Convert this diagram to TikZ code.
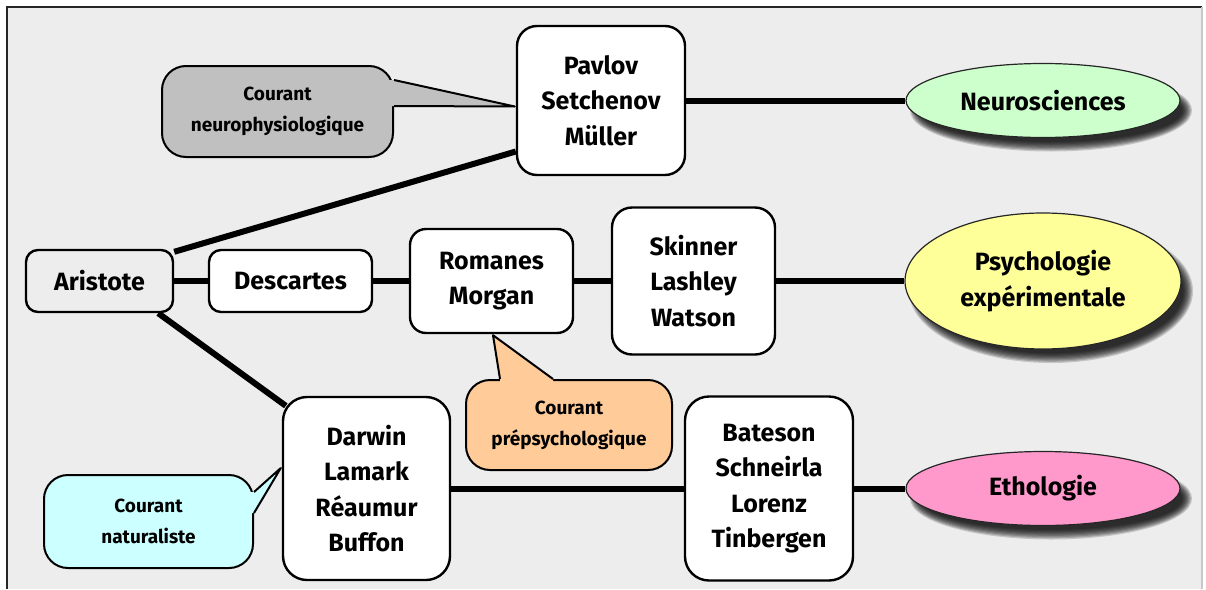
\documentclass[tikz,border=0pt]{standalone}
\usepackage{fontspec}
\setmainfont{Fira Sans}
\usetikzlibrary{shapes.geometric}
\pgfdeclarelayer{shadowlayer}
\pgfdeclarelayer{lines}
\pgfdeclarelayer{front}
\pgfsetlayers{main,shadowlayer,lines,front}
\definecolor{bgc}{HTML}{EDEDED}
\definecolor{neuc}{HTML}{CCFFCC}
\definecolor{psyc}{HTML}{FFFF99}
\definecolor{ethc}{HTML}{FF99CC}
\definecolor{cnc}{HTML}{C0C0C0}
\definecolor{cpc}{HTML}{FFCC99}
\definecolor{cnatc}{HTML}{CCFFFF}
\newcommand\mybigfont{\fontsize{25}{35.5}\selectfont\bfseries}
\newcommand\mysmallfont{\fontsize{19}{31}\selectfont\bfseries}
\newcommand\myellshadow[3]{%
  \foreach \k in {0,...,8}{%
    \fill[black, opacity=0.17] ([shift={(8,10)}]#1.center) ellipse [x radius={#2+4-1.2*\k}, y radius={#3+4-1.2*\k}];
  }%
}
\tikzset{
  box/.style={draw=black, line width=2.4pt, rounded corners=16pt, fill=white,
    inner sep=0pt, align=center, font=\mybigfont},
  ell/.style={ellipse, draw=black!85, line width=1.2pt, inner sep=0pt,
    align=center, font=\mybigfont},
  callout/.style={draw=black, line width=2pt, rounded corners=24pt,
    inner sep=0pt, align=center, font=\mysmallfont},
  link/.style={line width=6pt, black},
  tail/.style={draw=black, line width=2pt, line join=round},
}
\begin{document}
\begin{tikzpicture}[x=1pt,y=-1pt]
\useasboundingbox (0,0) rectangle (1206,589);
% frame (main layer, lowest)
\fill[white] (0,0) rectangle (1206,589);
\fill[bgc] (7,7) rectangle (1202,589);
\draw[black!85, line width=2pt] (7,589) -- (7,7) -- (1202,7);
\draw[black!22, line width=1.5pt] (1202,7) -- (1202,589);

\begin{pgfonlayer}{front}
% main boxes
\node[box, minimum width=168pt, minimum height=149pt, rounded corners=20pt] (pav) at (601,100.5) {Pavlov\\Setchenov\\Müller};
\node[box, fill=bgc, minimum width=147pt, minimum height=62pt, rounded corners=12pt] (ari) at (99.5,281) {Aristote};
\node[box, minimum width=163pt, minimum height=62pt, rounded corners=12pt] (des) at (290.5,281) {Descartes};
\node[box, minimum width=163pt, minimum height=104pt] (rom) at (491.5,281) {Romanes\\Morgan};
\node[box, minimum width=163pt, minimum height=147pt, rounded corners=20pt] (ski) at (693.5,281) {Skinner\\Lashley\\Watson};
\node[box, minimum width=167pt, minimum height=183pt, rounded corners=24pt] (dar) at (366.5,488.5) {Darwin\\Lamark\\Réaumur\\Buffon};
\node[box, minimum width=168pt, minimum height=184pt, rounded corners=24pt] (bat) at (769,488.5) {Bateson\\Schneirla\\Lorenz\\Tinbergen};

% outcome ellipses
\node[ell, fill=neuc, minimum width=274pt, minimum height=74pt] (neu) at (1043,100.5) {Neurosciences};
\node[ell, fill=psyc, minimum width=276pt, minimum height=136pt] (psy) at (1043,281) {Psychologie\\expérimentale};
\node[ell, fill=ethc, minimum width=274pt, minimum height=74pt] (eth) at (1043,488.5) {Ethologie};

% callouts
\node[callout, fill=cnc, minimum width=231pt, minimum height=91pt] (cn) at (277.5,111.5) {Courant\\neurophysiologique};
\node[callout, fill=cpc, minimum width=206pt, minimum height=90pt] (cp) at (569,425) {Courant\\prépsychologique};
\node[callout, fill=cnatc, minimum width=209pt, minimum height=93pt] (cnat) at (148.5,521.5) {Courant\\naturaliste};

% callout tails
\fill[cnc] ([yshift=31.5pt]cn.east) -- ([xshift=-1pt,yshift=-6pt]pav.west) -- ([yshift=5.5pt]cn.east)
  -- ([xshift=-9pt,yshift=5.5pt]cn.east) -- ([xshift=-9pt,yshift=31.5pt]cn.east) -- cycle;
\draw[tail] ([yshift=31.5pt]cn.east) -- ([xshift=-1pt,yshift=-6pt]pav.west) -- ([yshift=5.5pt]cn.east);

\fill[cpc] ([xshift=-69pt]cp.north) -- ([xshift=1.5pt,yshift=-1pt]rom.south) -- ([xshift=-16pt]cp.north)
  -- ([xshift=-16pt,yshift=-9pt]cp.north) -- ([xshift=-69pt,yshift=-9pt]cp.north) -- cycle;
\draw[tail] ([xshift=-69pt]cp.north) -- ([xshift=1.5pt,yshift=-1pt]rom.south) -- ([xshift=-16pt]cp.north);

\fill[cnatc] ([yshift=29.5pt]cnat.east) -- ([xshift=-1pt,yshift=20.5pt]dar.west) -- ([yshift=8.5pt]cnat.east)
  -- ([xshift=-9pt,yshift=8.5pt]cnat.east) -- ([xshift=-9pt,yshift=29.5pt]cnat.east) -- cycle;
\draw[tail] ([yshift=29.5pt]cnat.east) -- ([xshift=-1pt,yshift=20.5pt]dar.west) -- ([yshift=8.5pt]cnat.east);
\end{pgfonlayer}

% soft shadows of the ellipses
\begin{pgfonlayer}{shadowlayer}
  \myellshadow{neu}{137}{37}
  \myellshadow{psy}{138}{68}
  \myellshadow{eth}{137}{37}
\end{pgfonlayer}

% connectors
\begin{pgfonlayer}{lines}
  \draw[link] (pav) -- (neu);
  \draw[link] (ari) -- (des);
  \draw[link] (des) -- (rom);
  \draw[link] (rom) -- (ski);
  \draw[link] (ski) -- (psy);
  \draw[link] (dar) -- (bat);
  \draw[link] (bat) -- (eth);
  \draw[link] ([yshift=-3pt]ari.north east) -- ([yshift=-51pt]pav.west);
  \draw[link] ([xshift=-16pt]ari.south east) -- ([xshift=4pt,yshift=-10pt]dar.north west);
\end{pgfonlayer}
\end{tikzpicture}
\end{document}
